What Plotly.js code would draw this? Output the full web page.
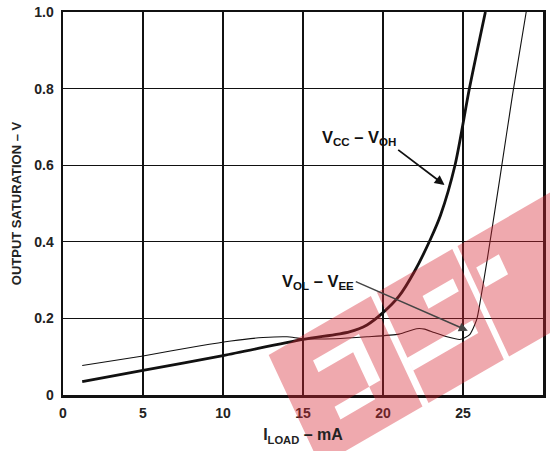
<!DOCTYPE html>
<html>
<head>
<meta charset="utf-8">
<script src="https://cdn.plot.ly/plotly-3.0.1.min.js"></script>
<style>html,body{margin:0;padding:0;background:#fff;}#chart{width:550px;height:451px;}</style>
</head>
<body>
<div id="chart"></div>
<script>
// V_CC - V_OH (thick curve)
var vccX = [1.2, 5, 10, 15, 17.9, 19, 20, 21, 22, 23, 23.6, 24.5, 25.4, 26.4];
var vccY = [0.035, 0.064, 0.103, 0.145, 0.165, 0.183, 0.215, 0.258, 0.325, 0.41, 0.47, 0.6, 0.8, 1.0];
// V_OL - V_EE (thin curve)
var volX = [1.2, 5, 8.5, 10.5, 12.5, 14, 15, 17, 19, 21, 22.1, 22.6, 23.2, 24, 24.8, 25.4, 25.85, 26.1, 26.5, 27.3, 28.1, 28.95];
var volY = [0.077, 0.102, 0.128, 0.141, 0.150, 0.152, 0.147, 0.147, 0.152, 0.159, 0.173, 0.172, 0.163, 0.152, 0.145, 0.157, 0.196, 0.25, 0.35, 0.565, 0.785, 1.0];
// ticks
var xTickVals = [0, 5, 10, 15, 20, 25, 30];
var xTickText = ["0", "5", "10", "15", "20", "25", "30"];
var yTickVals = [0, 0.2, 0.4, 0.6, 0.8, 1.0];
var yTickText = ["0", "0.2", "0.4", "0.6", "0.8", "1.0"];

var FONT = "Liberation Sans, Arial, Helvetica, sans-serif";

var traces = [
  {x: vccX, y: vccY, type: "scatter", mode: "lines",
   line: {color: "#111", width: 2.8, shape: "spline", smoothing: 0.8}, hoverinfo: "skip"},
  {x: volX, y: volY, type: "scatter", mode: "lines",
   line: {color: "#111", width: 1.1, shape: "spline", smoothing: 0.6}, hoverinfo: "skip"}
];

// ---- watermark (decorative overlay, paper coordinates) ----
var L = 63, T = 12, W = 480, H = 383;
function toPaper(px, py) { return [(px - L) / W, (T + H - py) / H]; }
var aU = 30 * Math.PI / 180, aV = 25 * Math.PI / 180;
var ORG = [268.7, 355];
function bandPt(u, v) {
  var px = ORG[0] + u * Math.cos(aU) + v * Math.sin(aV);
  var py = ORG[1] - u * Math.sin(aU) + v * Math.cos(aV);
  return toPaper(px, py);
}
function rectPath(u0, u1, v0, v1) {
  var pts = [bandPt(u0, v0), bandPt(u1, v0), bandPt(u1, v1), bandPt(u0, v1)];
  return "M" + pts.map(function (p) { return p[0].toFixed(4) + "," + p[1].toFixed(4); }).join("L") + "Z";
}
var wmPath =
  rectPath(0, 118, 0, 122) + rectPath(38, 91, 27, 40) + rectPath(78, 91, 40, 78) + rectPath(38, 78, 78, 92) +
  rectPath(125, 212, 0, 122) + rectPath(165, 200, 26, 40) + rectPath(125, 200, 72, 86) +
  rectPath(218, 420, 0, 122) + rectPath(226, 252, 28, 50);

var layout = {
  width: 550, height: 451,
  margin: {l: L, r: 550 - L - W, t: T, b: 451 - T - H},
  paper_bgcolor: "#fff", plot_bgcolor: "#fff",
  showlegend: false,
  font: {family: FONT, color: "#111"},
  xaxis: {
    range: [0, 30], tickvals: xTickVals, ticktext: xTickText,
    showgrid: true, gridcolor: "#111", gridwidth: 1.3,
    showline: true, mirror: true, linecolor: "#111", linewidth: 2.5,
    zeroline: false, ticks: "outside", ticklen: 4, tickcolor: "rgba(0,0,0,0)",
    tickfont: {family: FONT, size: 14, weight: "bold", color: "#222"},
    title: {text: "I<sub>LOAD</sub> – mA", font: {family: FONT, size: 16, weight: "bold", color: "#222"}, standoff: 9},
    fixedrange: true
  },
  yaxis: {
    range: [0, 1], tickvals: yTickVals, ticktext: yTickText,
    showgrid: true, gridcolor: "#111", gridwidth: 1.3,
    showline: true, mirror: true, linecolor: "#111", linewidth: 2.5,
    zeroline: false, ticks: "outside", ticklen: 4, tickcolor: "rgba(0,0,0,0)",
    tickfont: {family: FONT, size: 14, weight: "bold", color: "#222"},
    title: {text: "OUTPUT SATURATION – V", font: {family: FONT, size: 13, weight: "bold", color: "#222"}, standoff: 10},
    fixedrange: true
  },
  annotations: [
    {x: 23.85, y: 0.548, ax: 20.95, ay: 0.64, xref: "x", yref: "y", axref: "x", ayref: "y",
     xanchor: "right", yanchor: "bottom",
     text: "V<sub>CC</sub> – V<sub>OH</sub>", showarrow: true,
     arrowhead: 2, arrowsize: 1.1, arrowwidth: 1.8, arrowcolor: "#111",
     font: {family: FONT, size: 16.5, weight: "bold", color: "#111"}},
    {x: 25.3, y: 0.168, ax: 18.3, ay: 0.296, xref: "x", yref: "y", axref: "x", ayref: "y",
     xanchor: "right", yanchor: "middle",
     text: "V<sub>OL</sub> – V<sub>EE</sub>", showarrow: true,
     arrowhead: 2, arrowsize: 1.2, arrowwidth: 1.5, arrowcolor: "#444",
     font: {family: FONT, size: 16.5, weight: "bold", color: "#111"}}
  ],
  shapes: [
    {type: "path", xref: "paper", yref: "paper", path: wmPath, fillrule: "evenodd",
     fillcolor: "rgba(214,40,52,0.40)", line: {width: 0}, layer: "above"}
  ]
};

Plotly.newPlot("chart", traces, layout, {staticPlot: true, displayModeBar: false});
</script>
</body>
</html>
